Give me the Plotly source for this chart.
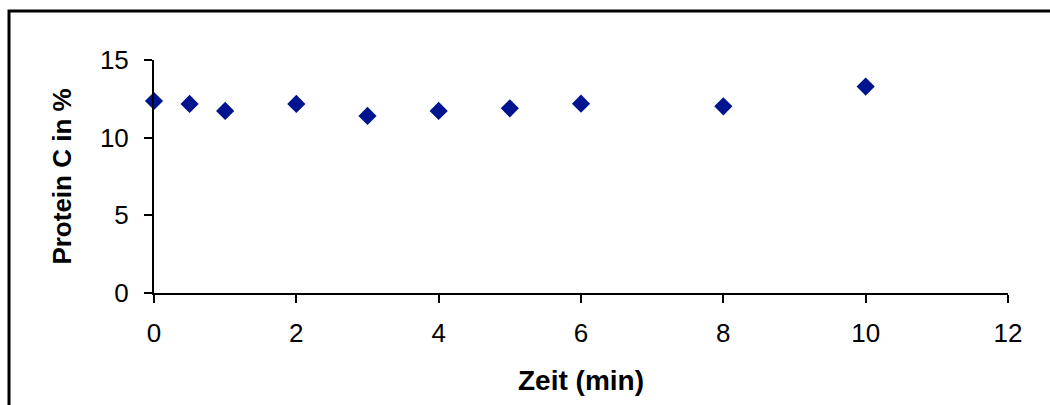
import plotly.graph_objects as go

# Zeitpunkte (min) und gemessener Protein-C-Anteil (%)
zeit_min = [0, 0.5, 1, 2, 3, 4, 5, 6, 8, 10]
protein_c = [12.36, 12.17, 11.72, 12.17, 11.40, 11.72, 11.89, 12.19, 12.02, 13.29]

x_ticks = [0, 2, 4, 6, 8, 10, 12]
y_ticks = [0, 5, 10, 15]

MARKER_COLOR = "#001490"
FONT = "Liberation Sans, Arial, sans-serif"

fig = go.Figure(
    go.Scatter(
        x=zeit_min,
        y=protein_c,
        mode="markers",
        marker=dict(symbol="diamond", size=14, color=MARKER_COLOR, line=dict(width=0)),
        cliponaxis=False,
        showlegend=False,
    )
)

axis_common = dict(
    showline=True,
    linecolor="black",
    linewidth=2,
    showgrid=False,
    zeroline=False,
    ticks="outside",
    ticklen=8,
    tickwidth=2,
    tickcolor="black",
    tickfont=dict(family=FONT, size=26, color="black"),
)

fig.update_xaxes(
    range=[0, 12],
    tickvals=x_ticks,
    ticktext=[str(v) for v in x_ticks],
    ticklabelstandoff=8,
    title=dict(text="<b>Zeit (min)</b>", font=dict(family=FONT, size=28, color="black"), standoff=23),
    **axis_common,
)
fig.update_yaxes(
    range=[0, 15],
    tickvals=y_ticks,
    ticktext=[str(v) for v in y_ticks],
    ticklabelstandoff=10,
    title=dict(text="<b>Protein C in %</b>", font=dict(family=FONT, size=26, color="black"), standoff=21),
    **axis_common,
)

# Chart frame around the whole drawing
fig.add_shape(
    type="rect",
    xref="paper",
    yref="paper",
    x0=(9 - 154) / 854,
    x1=(1065 - 154) / 854,
    y0=(293 - 420) / 233,
    y1=(293 - 11) / 233,
    line=dict(color="black", width=3),
    fillcolor="rgba(0,0,0,0)",
)

fig.update_layout(
    width=1050,
    height=405,
    margin=dict(l=154, r=42, t=60, b=112),
    paper_bgcolor="white",
    plot_bgcolor="white",
    font=dict(family=FONT, color="black"),
)

fig.write_html("out.html")
